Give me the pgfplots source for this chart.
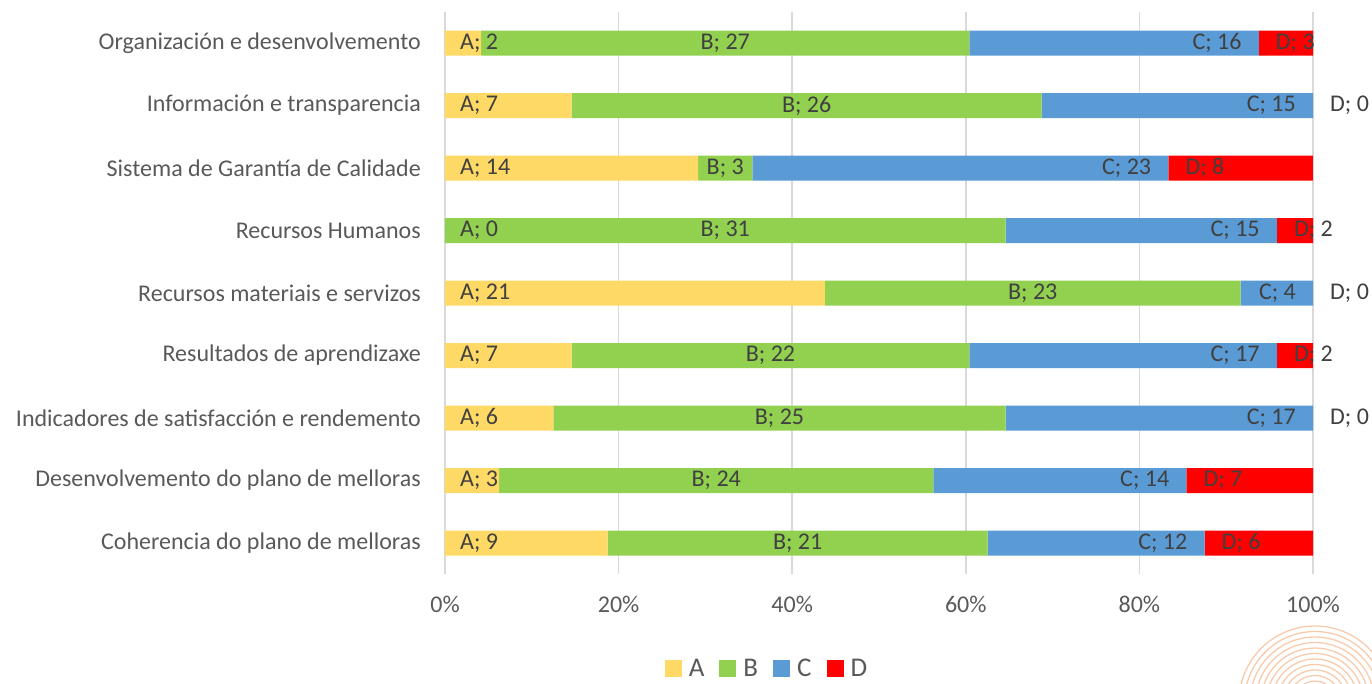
\documentclass[border=0pt]{standalone}
\usepackage{pgfplots}
\pgfplotsset{compat=1.18}
\usepackage{pgfplotstable}
\usepackage{fontspec}
\setmainfont{Carlito}

\definecolor{cA}{HTML}{FFD966}
\definecolor{cB}{HTML}{92D050}
\definecolor{cC}{HTML}{5B9BD5}
\definecolor{cD}{HTML}{FF0000}
\definecolor{lbl}{HTML}{595959}
\definecolor{dlbl}{HTML}{404040}
\definecolor{gridc}{HTML}{D9D9D9}
\definecolor{deco}{HTML}{F8CBAD}

% idx 0 = top row
\pgfplotstableread{
idx A B C D
0 2 27 16 3
1 7 26 15 0
2 14 3 23 8
3 0 31 15 2
4 21 23 4 0
5 7 22 17 2
6 6 25 17 0
7 3 24 14 7
8 9 21 12 6
}\datatable

\newcommand{\fs}{\fontsize{24}{28}\selectfont}
\newcommand{\lfs}{\fontsize{27}{30}\selectfont}

\pgfplotsset{
  common/.style={
    scale only axis, width=868pt, height=562.5pt,
    xmin=0, xmax=100, ymin=-0.5, ymax=8.5, y dir=reverse,
    at={(0,0)}, anchor=south west,
    /pgf/number format/assume math mode=true,
  },
  lab/.style={only marks, mark=*, mark size=0pt,
    mark options={draw=none, fill=none}, forget plot,
    point meta=explicit symbolic,
    every node near coord/.append style={font=\fs, text=dlbl, inner sep=0pt}},
}

\begin{document}
\begin{tikzpicture}
\path[use as bounding box] (-445pt,-108.75pt) rectangle (927pt,574.25pt);

\begin{axis}[common,
    xbar stacked, bar width=25pt,
    axis line style={draw=none},
    xmajorgrids, major grid style={draw=gridc, line width=1.5pt},
    major tick length=0pt,
    xtick={0,20,...,100},
    xticklabel={\pgfmathprintnumber{\tick}\%},
    ytick={0,...,8},
    yticklabels={Organización e desenvolvemento, Información e transparencia,
      Sistema de Garantía de Calidade, Recursos Humanos,
      Recursos materiais e servizos, Resultados de aprendizaxe,
      Indicadores de satisfacción e rendemento,
      Desenvolvemento do plano de melloras, Coherencia do plano de melloras},
    tick label style={font=\fs, text=lbl},
    yticklabel style={inner sep=0pt, xshift=-24pt},
    xticklabel style={inner sep=0pt, yshift=-22pt},
    legend columns=4,
    legend style={draw=none, at={(0.371,-0.167)}, anchor=center,
      text=lbl, inner sep=0pt, nodes={inner ysep=0pt},
      /tikz/every even column/.append style={column sep=13pt}},
    legend image code/.code={\fill[#1] (0pt,-8.5pt) rectangle (17pt,8.5pt);},
]
\addplot[fill=cA, draw=none] table[y=idx,
  x expr={100*\thisrow{A}/(\thisrow{A}+\thisrow{B}+\thisrow{C}+\thisrow{D})}] {\datatable};
\addplot[fill=cB, draw=none] table[y=idx,
  x expr={100*\thisrow{B}/(\thisrow{A}+\thisrow{B}+\thisrow{C}+\thisrow{D})}] {\datatable};
\addplot[fill=cC, draw=none] table[y=idx,
  x expr={100*\thisrow{C}/(\thisrow{A}+\thisrow{B}+\thisrow{C}+\thisrow{D})}] {\datatable};
\addplot[fill=cD, draw=none] table[y=idx,
  x expr={100*\thisrow{D}/(\thisrow{A}+\thisrow{B}+\thisrow{C}+\thisrow{D})}] {\datatable};
\legend{{\lfs\hspace{5pt}A},{\lfs\hspace{5pt}B},{\lfs\hspace{5pt}C},{\lfs\hspace{5pt}D}}
\end{axis}

% data labels
\begin{axis}[common, hide axis, clip=false]
\addplot[lab, nodes near coords={A; \pgfplotspointmeta},
  nodes near coords style={anchor=west, xshift=15pt}]
  table[y=idx, meta=A, x expr=0] {\datatable};
\addplot[lab, nodes near coords={B; \pgfplotspointmeta},
  nodes near coords style={anchor=center}]
  table[y=idx, meta=B,
  x expr={100*(\thisrow{A}+0.5*\thisrow{B})/(\thisrow{A}+\thisrow{B}+\thisrow{C}+\thisrow{D})}] {\datatable};
\addplot[lab, nodes near coords={C; \pgfplotspointmeta},
  nodes near coords style={anchor=east, xshift=-17pt}]
  table[y=idx, meta=C,
  x expr={100*(\thisrow{A}+\thisrow{B}+\thisrow{C})/(\thisrow{A}+\thisrow{B}+\thisrow{C}+\thisrow{D})}] {\datatable};
\addplot[lab, nodes near coords={D; \pgfplotspointmeta},
  nodes near coords style={anchor=west, xshift=17pt}]
  table[y=idx, meta=D,
  x expr={100*(\thisrow{A}+\thisrow{B}+\thisrow{C})/(\thisrow{A}+\thisrow{B}+\thisrow{C}+\thisrow{D})}] {\datatable};
\end{axis}

% background decoration, bottom right
\begin{scope}
\clip (-445pt,-108.75pt) rectangle (927pt,574.25pt);
\foreach \r in {10,15.5,...,78}
  \draw[deco, line width=1.3pt] (870pt,-127.75pt) circle (\r pt);
\end{scope}
\end{tikzpicture}
\end{document}
